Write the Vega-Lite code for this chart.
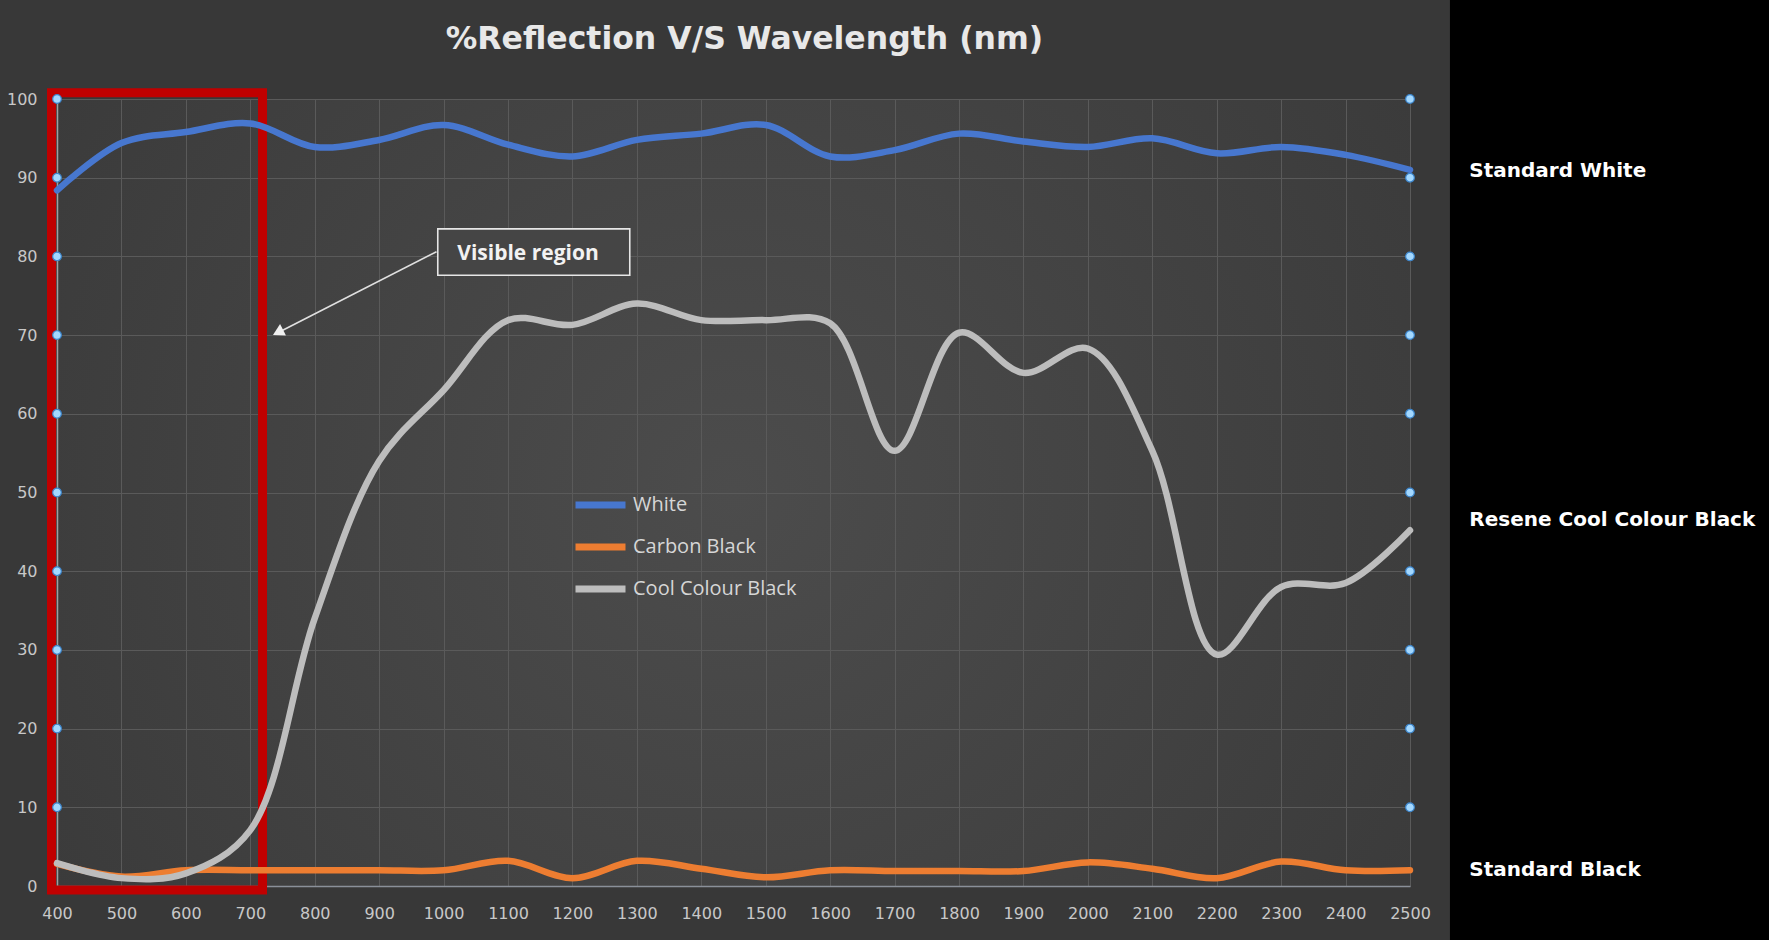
{
  "$schema": "https://vega.github.io/schema/vega-lite/v6.json",
  "width": 1353,
  "height": 787,
  "autosize": {"type": "none"},
  "padding": {"left": 57, "top": 99, "right": 359, "bottom": 54},
  "background": "#383838",
  "title": {
    "text": "%Reflection V/S Wavelength (nm)",
    "font": "DejaVu Sans",
    "fontSize": 31.5,
    "fontWeight": "bold",
    "color": "#e8e8e8",
    "anchor": "middle",
    "frame": "group",
    "dx": 11,
    "offset": -56
  },
  "config": {
    "view": {
      "stroke": null,
      "fill": {
        "gradient": "radial",
        "x1": 0.5, "y1": 0.5, "r1": 0,
        "x2": 0.5, "y2": 0.5, "r2": 0.75,
        "stops": [
          {"offset": 0, "color": "#4c4c4c"},
          {"offset": 1, "color": "#363636"}
        ]
      }
    },
    "axis": {
      "gridColor": "#5a5a5a",
      "gridWidth": 1,
      "ticks": false,
      "labelFont": "DejaVu Sans",
      "labelFontSize": 16,
      "labelColor": "#c8c8c8",
      "labelFlush": false,
      "labelOverlap": false,
      "labelBound": false,
      "title": null,
      "domainColor": "#8a9099",
      "domainWidth": 1.5
    },
    "legend": {
      "orient": "none",
      "legendX": 515,
      "legendY": 396,
      "padding": 0,
      "symbolType": "stroke",
      "symbolSize": 2500,
      "symbolStrokeWidth": 7,
      "clipHeight": 20,
      "rowPadding": 22,
      "labelFont": "Open Sans",
      "labelFontSize": 20,
      "labelColor": "#d6d6d6",
      "labelOffset": 4,
      "labelLimit": 0,
      "title": null
    }
  },
  "datasets": {
    "spectra": [
      {"wavelength": 400, "series": "White", "reflection": 88.4},
      {"wavelength": 500, "series": "White", "reflection": 94.4},
      {"wavelength": 600, "series": "White", "reflection": 95.8},
      {"wavelength": 700, "series": "White", "reflection": 96.9},
      {"wavelength": 800, "series": "White", "reflection": 93.9},
      {"wavelength": 900, "series": "White", "reflection": 94.8},
      {"wavelength": 1000, "series": "White", "reflection": 96.7},
      {"wavelength": 1100, "series": "White", "reflection": 94.2},
      {"wavelength": 1200, "series": "White", "reflection": 92.7},
      {"wavelength": 1300, "series": "White", "reflection": 94.8},
      {"wavelength": 1400, "series": "White", "reflection": 95.6},
      {"wavelength": 1500, "series": "White", "reflection": 96.7},
      {"wavelength": 1600, "series": "White", "reflection": 92.7},
      {"wavelength": 1700, "series": "White", "reflection": 93.5},
      {"wavelength": 1800, "series": "White", "reflection": 95.6},
      {"wavelength": 1900, "series": "White", "reflection": 94.6},
      {"wavelength": 2000, "series": "White", "reflection": 93.9},
      {"wavelength": 2100, "series": "White", "reflection": 95.0},
      {"wavelength": 2200, "series": "White", "reflection": 93.1},
      {"wavelength": 2300, "series": "White", "reflection": 93.9},
      {"wavelength": 2400, "series": "White", "reflection": 92.9},
      {"wavelength": 2500, "series": "White", "reflection": 91.0},
      {"wavelength": 400, "series": "Carbon Black", "reflection": 2.8},
      {"wavelength": 500, "series": "Carbon Black", "reflection": 1.2},
      {"wavelength": 600, "series": "Carbon Black", "reflection": 2.0},
      {"wavelength": 700, "series": "Carbon Black", "reflection": 2.0},
      {"wavelength": 800, "series": "Carbon Black", "reflection": 2.0},
      {"wavelength": 900, "series": "Carbon Black", "reflection": 2.0},
      {"wavelength": 1000, "series": "Carbon Black", "reflection": 2.0},
      {"wavelength": 1100, "series": "Carbon Black", "reflection": 3.2},
      {"wavelength": 1200, "series": "Carbon Black", "reflection": 1.0},
      {"wavelength": 1300, "series": "Carbon Black", "reflection": 3.2},
      {"wavelength": 1400, "series": "Carbon Black", "reflection": 2.2},
      {"wavelength": 1500, "series": "Carbon Black", "reflection": 1.1},
      {"wavelength": 1600, "series": "Carbon Black", "reflection": 2.0},
      {"wavelength": 1700, "series": "Carbon Black", "reflection": 1.9},
      {"wavelength": 1800, "series": "Carbon Black", "reflection": 1.9},
      {"wavelength": 1900, "series": "Carbon Black", "reflection": 1.9},
      {"wavelength": 2000, "series": "Carbon Black", "reflection": 3.0},
      {"wavelength": 2100, "series": "Carbon Black", "reflection": 2.2},
      {"wavelength": 2200, "series": "Carbon Black", "reflection": 1.0},
      {"wavelength": 2300, "series": "Carbon Black", "reflection": 3.1},
      {"wavelength": 2400, "series": "Carbon Black", "reflection": 2.0},
      {"wavelength": 2500, "series": "Carbon Black", "reflection": 2.0},
      {"wavelength": 400, "series": "Cool Colour Black", "reflection": 2.9},
      {"wavelength": 500, "series": "Cool Colour Black", "reflection": 1.0},
      {"wavelength": 600, "series": "Cool Colour Black", "reflection": 1.6},
      {"wavelength": 700, "series": "Cool Colour Black", "reflection": 7.1},
      {"wavelength": 800, "series": "Cool Colour Black", "reflection": 34.0},
      {"wavelength": 900, "series": "Cool Colour Black", "reflection": 54.0},
      {"wavelength": 1000, "series": "Cool Colour Black", "reflection": 63.0},
      {"wavelength": 1100, "series": "Cool Colour Black", "reflection": 71.9},
      {"wavelength": 1200, "series": "Cool Colour Black", "reflection": 71.3},
      {"wavelength": 1300, "series": "Cool Colour Black", "reflection": 74.0},
      {"wavelength": 1400, "series": "Cool Colour Black", "reflection": 71.9},
      {"wavelength": 1500, "series": "Cool Colour Black", "reflection": 71.9},
      {"wavelength": 1600, "series": "Cool Colour Black", "reflection": 71.5},
      {"wavelength": 1700, "series": "Cool Colour Black", "reflection": 55.3},
      {"wavelength": 1800, "series": "Cool Colour Black", "reflection": 70.3},
      {"wavelength": 1900, "series": "Cool Colour Black", "reflection": 65.2},
      {"wavelength": 2000, "series": "Cool Colour Black", "reflection": 68.3},
      {"wavelength": 2100, "series": "Cool Colour Black", "reflection": 55.3},
      {"wavelength": 2200, "series": "Cool Colour Black", "reflection": 29.4},
      {"wavelength": 2300, "series": "Cool Colour Black", "reflection": 38.0},
      {"wavelength": 2400, "series": "Cool Colour Black", "reflection": 38.5},
      {"wavelength": 2500, "series": "Cool Colour Black", "reflection": 45.2}
    ],
    "handles": [
      {"wavelength": 400, "reflection": 10}, {"wavelength": 400, "reflection": 20},
      {"wavelength": 400, "reflection": 30}, {"wavelength": 400, "reflection": 40},
      {"wavelength": 400, "reflection": 50}, {"wavelength": 400, "reflection": 60},
      {"wavelength": 400, "reflection": 70}, {"wavelength": 400, "reflection": 80},
      {"wavelength": 400, "reflection": 90}, {"wavelength": 400, "reflection": 100},
      {"wavelength": 2500, "reflection": 10}, {"wavelength": 2500, "reflection": 20},
      {"wavelength": 2500, "reflection": 30}, {"wavelength": 2500, "reflection": 40},
      {"wavelength": 2500, "reflection": 50}, {"wavelength": 2500, "reflection": 60},
      {"wavelength": 2500, "reflection": 70}, {"wavelength": 2500, "reflection": 80},
      {"wavelength": 2500, "reflection": 90}, {"wavelength": 2500, "reflection": 100}
    ],
    "materials": [
      {"label": "Standard White", "level": 90.9},
      {"label": "Resene Cool Colour Black", "level": 46.5},
      {"label": "Standard Black", "level": 2.0}
    ],
    "one": [{}]
  },
  "layer": [
    {
      "data": {"name": "one"},
      "mark": {"type": "rect", "fill": "#000000", "clip": false},
      "encoding": {
        "x": {"datum": 2562, "type": "quantitative"},
        "x2": {"datum": 3300},
        "y": {"datum": -7, "type": "quantitative"},
        "y2": {"datum": 112.6}
      }
    },
    {
      "data": {"name": "one"},
      "mark": {"type": "rect", "fill": "transparent", "stroke": "#c00000", "strokeWidth": 9, "clip": false},
      "encoding": {
        "x": {"datum": 391.5, "type": "quantitative"},
        "x2": {"datum": 719},
        "y": {"datum": -0.5, "type": "quantitative"},
        "y2": {"datum": 100.8}
      }
    },
    {
      "data": {"name": "spectra"},
      "mark": {"type": "line", "interpolate": "catmull-rom", "strokeWidth": 6.5, "strokeCap": "round"},
      "encoding": {
        "x": {
          "field": "wavelength",
          "type": "quantitative",
          "scale": {"domain": [400, 2500], "nice": false, "zero": false},
          "axis": {
            "values": [400, 500, 600, 700, 800, 900, 1000, 1100, 1200, 1300, 1400, 1500, 1600, 1700, 1800, 1900, 2000, 2100, 2200, 2300, 2400, 2500],
            "format": "d",
            "labelPadding": 19,
            "grid": true
          }
        },
        "y": {
          "field": "reflection",
          "type": "quantitative",
          "scale": {"domain": [0, 100], "nice": false, "zero": false},
          "axis": {
            "values": [0, 10, 20, 30, 40, 50, 60, 70, 80, 90, 100],
            "labelPadding": 20,
            "grid": true,
            "domainColor": "#a0a0a0"
          }
        },
        "color": {
          "field": "series",
          "type": "nominal",
          "scale": {
            "domain": ["White", "Carbon Black", "Cool Colour Black"],
            "range": ["#4777cf", "#ed7d31", "#bdbdbd"]
          }
        },
        "order": {"field": "wavelength"}
      }
    },
    {
      "data": {"name": "handles"},
      "mark": {"type": "point", "filled": true, "fill": "#a3d8ff", "stroke": "#3d86cc", "strokeWidth": 1.2, "size": 75, "opacity": 1},
      "encoding": {
        "x": {"field": "wavelength", "type": "quantitative"},
        "y": {"field": "reflection", "type": "quantitative"}
      }
    },
    {
      "data": {"name": "one"},
      "mark": {"type": "rule", "color": "#e0e0e0", "strokeWidth": 1.6},
      "encoding": {
        "x": {"datum": 989, "type": "quantitative"},
        "y": {"datum": 80.6, "type": "quantitative"},
        "x2": {"datum": 745},
        "y2": {"datum": 70.4}
      }
    },
    {
      "data": {"name": "one"},
      "mark": {"type": "point", "shape": "triangle-up", "filled": true, "color": "#f0f0f0", "size": 170, "angle": 243, "opacity": 1},
      "encoding": {
        "x": {"datum": 743, "type": "quantitative"},
        "y": {"datum": 70.35, "type": "quantitative"}
      }
    },
    {
      "data": {"name": "one"},
      "mark": {"type": "rect", "fill": "#454545", "stroke": "#e6e6e6", "strokeWidth": 1.6},
      "encoding": {
        "x": {"datum": 991, "type": "quantitative"},
        "x2": {"datum": 1289},
        "y": {"datum": 77.6, "type": "quantitative"},
        "y2": {"datum": 83.5}
      }
    },
    {
      "data": {"name": "one"},
      "mark": {"type": "text", "text": "Visible region", "font": "Open Sans", "fontWeight": "bold", "fontSize": 21, "color": "#f2f2f2", "align": "center", "baseline": "middle"},
      "encoding": {
        "x": {"datum": 1131, "type": "quantitative"},
        "y": {"datum": 80.3, "type": "quantitative"}
      }
    },
    {
      "data": {"name": "materials"},
      "mark": {"type": "text", "font": "DejaVu Sans", "fontWeight": "bold", "fontSize": 20, "color": "#ffffff", "align": "left", "baseline": "middle", "clip": false},
      "encoding": {
        "x": {"datum": 2592, "type": "quantitative"},
        "y": {"field": "level", "type": "quantitative"},
        "text": {"field": "label"}
      }
    }
  ]
}
